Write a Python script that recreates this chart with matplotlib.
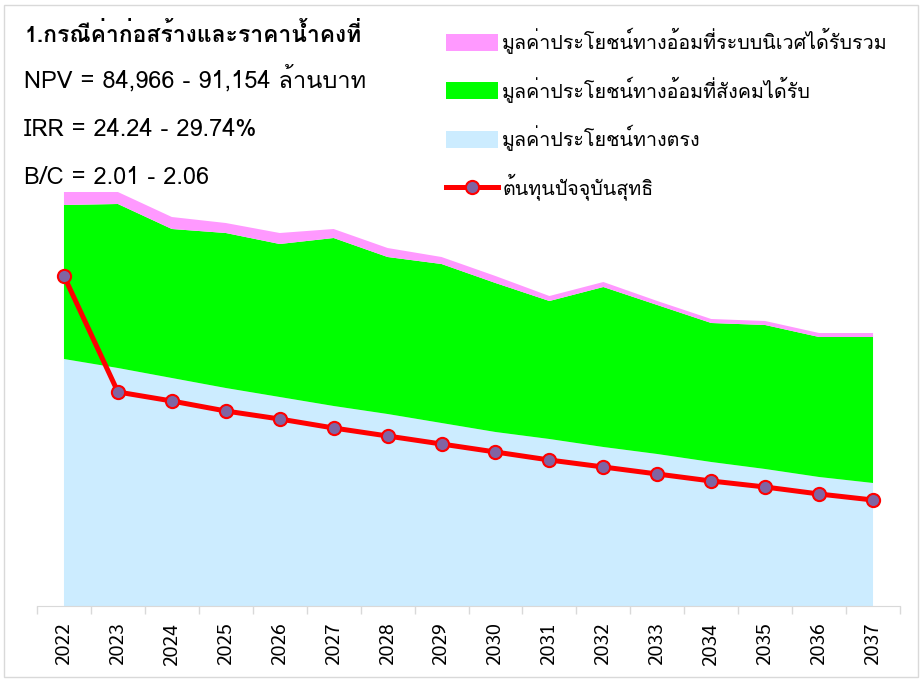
import numpy as np
import matplotlib
matplotlib.use("Agg")
import matplotlib.pyplot as plt
from matplotlib.patches import Patch, Rectangle
from matplotlib.lines import Line2D

# Loma keeps the stacked Thai marks (ที่, น้ำ) readable without text shaping
plt.rcParams['font.family'] = ['Loma', 'Sarabun', 'DejaVu Sans']

years = [str(y) for y in range(2022, 2038)]
direct = [247, 238, 228, 218, 209, 200, 192, 183, 174, 167, 159, 152, 144, 137, 129, 123]
social = [154, 164, 149, 155, 153, 168, 157, 159, 149, 138, 160, 149, 139, 144, 140, 146]
eco = [13, 12, 12, 10, 11, 9, 9, 7, 7, 5, 5, 4, 4, 4, 4, 4]
net_cost = [330, 214, 205, 195, 187, 178, 170, 162, 154, 146, 139, 132, 125, 119, 112, 106]

lbl_eco = "มูลค่าประโยชน์ทางอ้อมที่ระบบนิเวศได้รับรวม"
lbl_social = "มูลค่าประโยชน์ทางอ้อมที่สังคมได้รับ"
lbl_direct = "มูลค่าประโยชน์ทางตรง"
lbl_cost = "ต้นทุนปัจจุบันสุทธิ"

c_direct = "#CCECFF"
c_social = "#00FF00"
c_eco = "#FF99FF"

W, H = 922, 680
fig = plt.figure(figsize=(W / 100, H / 100), dpi=100)
ax = fig.add_axes([37 / W, 1 - 606 / H, (900 - 37) / W, (606 - 190) / H])

x = np.arange(len(years))
ax.stackplot(x, direct, social, eco, colors=[c_direct, c_social, c_eco], linewidth=0)
ax.plot(x, net_cost, color="#FF0000", lw=3.6, marker="o", markersize=9.5,
        markerfacecolor="#8064A2", markeredgecolor="#FF0000", markeredgewidth=1.5,
        solid_capstyle="round", zorder=5)

ax.set_xlim(-0.5, len(years) - 0.5)
ax.set_ylim(0, 416)
ax.set_xticks(x)
ax.set_xticklabels(years, rotation=90, family=['Sarabun', 'DejaVu Sans'])
ax.set_xticks(np.arange(-0.5, len(years)), minor=True)
ax.tick_params(axis="x", which="major", length=0, pad=12, labelsize=14)
ax.tick_params(axis="x", which="minor", length=5.5, color="#D9D9D9", width=1)
ax.set_yticks([])
for s in ["left", "right", "top"]:
    ax.spines[s].set_visible(False)
ax.spines["bottom"].set_color("#D9D9D9")
ax.set_facecolor("none")

# texts top left
fig.text(24 / W, 1 - 34 / H, "1.กรณีค่าก่อสร้างและราคาน้ำคงที่", fontsize=16.5, fontweight="bold", va="center")
fig.text(24 / W, 1 - 79 / H, "NPV = 84,966 - 91,154 ล้านบาท", fontsize=17, va="center")
fig.text(24 / W, 1 - 129 / H, "IRR = 24.24 - 29.74%", fontsize=17, va="center")
fig.text(24 / W, 1 - 178 / H, "B/C = 2.01 - 2.06", fontsize=17, va="center")

handles = [
    Patch(facecolor=c_eco, edgecolor="none", label=lbl_eco),
    Patch(facecolor=c_social, edgecolor="none", label=lbl_social),
    Patch(facecolor=c_direct, edgecolor="none", label=lbl_direct),
    Line2D([0], [0], color="#FF0000", lw=3.6, marker="o", markersize=9.5,
           markerfacecolor="#8064A2", markeredgecolor="#FF0000", markeredgewidth=1.5,
           label=lbl_cost),
]
fig.legend(handles=handles, loc="upper left", bbox_to_anchor=(446 / W, 1 - 28 / H),
           frameon=False, fontsize=14.2, handlelength=2.65, handleheight=0.96,
           handletextpad=0.2, labelspacing=1.13, borderaxespad=0, borderpad=0)

fig.add_artist(Rectangle((4 / W, 3 / H), 914 / W, 672 / H, transform=fig.transFigure,
                         fill=False, edgecolor="#D9D9D9", lw=1))

fig.savefig("out.png", dpi=100)
